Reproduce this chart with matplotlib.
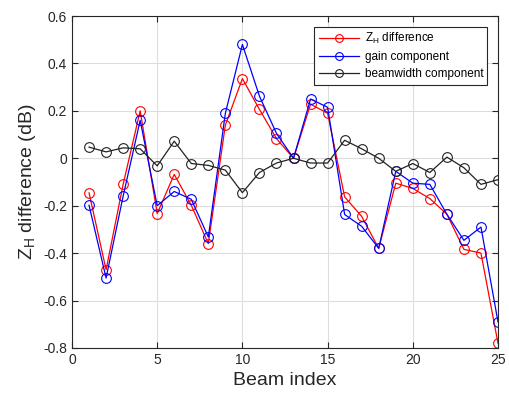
import numpy as np
from matplotlib import pyplot as plt

plt.rcParams['font.family'] = ['Liberation Sans', 'DejaVu Sans']

beam = np.arange(1, 26)
zh_diff = [-0.146, -0.47, -0.11, 0.20, -0.233, -0.068, -0.198, -0.36, 0.14, 0.336,
           0.206, 0.083, 0.0, 0.228, 0.19, -0.163, -0.245, -0.38, -0.105, -0.127,
           -0.17, -0.236, -0.384, -0.40, -0.78]
gain = [-0.198, -0.505, -0.16, 0.16, -0.20, -0.14, -0.173, -0.332, 0.19, 0.48,
        0.262, 0.105, 0.0, 0.25, 0.215, -0.237, -0.287, -0.38, -0.055, -0.105,
        -0.11, -0.236, -0.346, -0.29, -0.69]
beamwidth = [0.047, 0.027, 0.044, 0.04, -0.032, 0.072, -0.022, -0.03, -0.05, -0.145,
             -0.06, -0.02, 0.0, -0.02, -0.02, 0.076, 0.04, 0.0, -0.055, -0.022,
             -0.06, 0.005, -0.04, -0.11, -0.09]

fig = plt.figure(figsize=(5.09, 3.99), dpi=100)
ax = fig.add_axes([72/509, 1 - 348/399, (498-72)/509, (348-16)/399])

ax.plot(beam, zh_diff, '-o', color='red', mfc='none', ms=7, lw=0.9, mew=0.8, label='Z$_\\mathregular{H}$ difference')
ax.plot(beam, gain, '-o', color='blue', mfc='none', ms=7, lw=0.9, mew=0.8, label='gain component')
ax.plot(beam, beamwidth, '-o', color='#222222', mfc='none', ms=7, lw=0.9, mew=0.8, label='beamwidth component')

ax.set_xlim(0, 25)
ax.set_ylim(-0.8, 0.6)
ax.set_xticks(np.arange(0, 26, 5))
ax.set_yticks(np.arange(-0.8, 0.61, 0.2))
ax.set_yticklabels(['-0.8', '-0.6', '-0.4', '-0.2', '0', '0.2', '0.4', '0.6'])
ax.grid(True, color='#dddddd', lw=0.8)
ax.set_axisbelow(True)
ax.tick_params(direction='in', top=True, right=True, labelsize=10, colors='#262626', length=4)
for s in ax.spines.values():
    s.set_color('#262626')
    s.set_linewidth(0.8)

ax.set_xlabel('Beam index', fontsize=14, color='#262626')
ax.set_ylabel('Z$_\\mathregular{H}$ difference (dB)', fontsize=14, color='#262626')

leg = ax.legend(loc='upper right', fontsize=8.5, fancybox=False, framealpha=1,
                edgecolor='#262626', borderaxespad=0.9, handlelength=3.4,
                labelspacing=0.45, markerscale=0.8, borderpad=0.35, handletextpad=0.5)
leg.get_frame().set_linewidth(0.8)

fig.savefig('out.png', dpi=100)
